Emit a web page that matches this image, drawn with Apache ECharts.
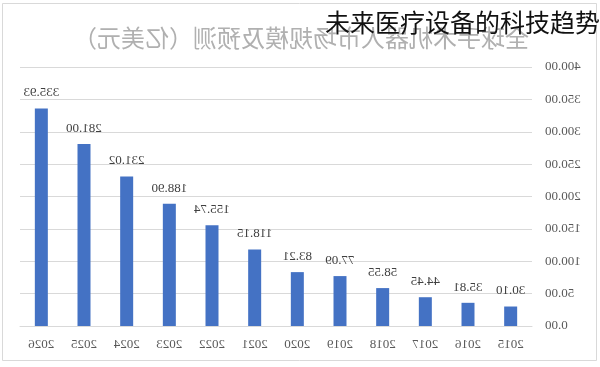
<!DOCTYPE html>
<html>
<head>
<meta charset="utf-8">
<script src="https://cdn.jsdelivr.net/npm/echarts@6/dist/echarts.min.js"></script>
<style>
html,body{margin:0;padding:0;background:#fff;}
#wrap{position:relative;width:600px;height:367px;overflow:hidden;}
#chart{position:absolute;left:0;top:0;width:600px;height:367px;transform:scaleX(-1);}
#overlay{position:absolute;right:0;top:4px;font-family:"Noto Sans CJK SC",sans-serif;font-size:25px;color:#111;white-space:nowrap;line-height:34px;}
</style>
</head>
<body>
<div id="wrap">
  <div id="chart"></div>
  <div id="overlay">未来医疗设备的科技趋势</div>
</div>
<script>
const years = ["2015","2016","2017","2018","2019","2020","2021","2022","2023","2024","2025","2026"];
const values = [30.10,35.81,44.45,58.55,77.09,83.21,118.15,155.74,188.90,231.02,281.00,335.93];
const titleText = "全球手术机器人市场规模及预测（亿美元）";

const chart = echarts.init(document.getElementById('chart'), null, {renderer:'canvas'});
chart.setOption({
  animation:false,
  backgroundColor:'#fff',
  title:{
    text:titleText,
    left:294, top:21, textAlign:'center',
    textStyle:{fontSize:24,fontWeight:'normal',color:'#b0b0b0',fontFamily:'"Noto Sans CJK SC",sans-serif'}
  },
  graphic:[{
    type:'rect', shape:{x:3.5,y:3.5,width:594,height:357},
    style:{fill:'none',stroke:'#d9d9d9',lineWidth:1}, silent:true
  }],
  grid:{left:68,right:20,top:67,bottom:41},
  xAxis:{
    type:'category', data:years,
    axisLine:{lineStyle:{color:'#d9d9d9'}},
    axisTick:{show:false},
    axisLabel:{color:'#595959',fontSize:13,margin:12,fontFamily:'"Liberation Serif",serif'}
  },
  yAxis:{
    type:'value', min:0, max:400, interval:50,
    axisLine:{show:false}, axisTick:{show:false},
    splitLine:{lineStyle:{color:'#d9d9d9'}},
    axisLabel:{color:'#595959',fontSize:13,margin:13,fontFamily:'"Liberation Serif",serif',
      formatter:v=>v.toFixed(2)}
  },
  series:[{
    type:'bar', data:values, barWidth:13,
    itemStyle:{color:'#4472C4'},
    label:{show:true,position:'top',distance:9,color:'#404040',fontSize:13,
      fontFamily:'"Liberation Serif",serif',formatter:p=>p.value.toFixed(2)}
  }]
});
</script>
</body>
</html>
